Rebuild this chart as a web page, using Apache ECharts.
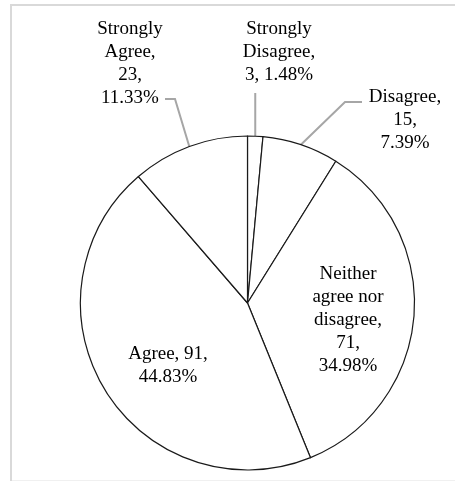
<!DOCTYPE html>
<html>
<head>
<meta charset="utf-8">
<style>
html,body{margin:0;padding:0;background:#fff;}
#chart{width:455px;height:481px;}
</style>
<script src="https://cdn.jsdelivr.net/npm/echarts@6/dist/echarts.min.js"></script>
</head>
<body>
<div id="chart"></div>
<script>
var categories = ['Strongly Disagree', 'Disagree', 'Neither agree nor disagree', 'Agree', 'Strongly Agree'];
var values = [3, 15, 71, 91, 23];

var total = values.reduce(function (a, b) { return a + b; }, 0);
function pct(v) { return (v / total * 100).toFixed(2) + '%'; }

// how each label breaks into lines (layout only)
var wrap = {
  'Strongly Disagree': function (v) { return 'Strongly\nDisagree,\n' + v + ', ' + pct(v); },
  'Disagree': function (v) { return 'Disagree,\n' + v + ',\n' + pct(v); },
  'Neither agree nor disagree': function (v) { return 'Neither\nagree nor\ndisagree,\n' + v + ',\n' + pct(v); },
  'Agree': function (v) { return 'Agree, ' + v + ',\n' + pct(v); },
  'Strongly Agree': function (v) { return 'Strongly\nAgree,\n' + v + ',\n' + pct(v); }
};
var insideSet = { 'Neither agree nor disagree': 1, 'Agree': 1 };

// label placement (layout): label centre and leader elbow / end
var placement = {
  'Strongly Disagree': { x: 279, y: 52, elbow: [null, 93], end: [null, 93] },
  'Disagree': { x: 405, y: 120, elbow: [345, 102], end: [362, 102] },
  'Neither agree nor disagree': { x: 348, y: 320 },
  'Agree': { x: 168, y: 366 },
  'Strongly Agree': { x: 130, y: 64, elbow: [175, 99], end: [165, 99] }
};

var chart = echarts.init(document.getElementById('chart'), null, { renderer: 'canvas' });

var data = categories.map(function (c, i) {
  var inside = !!insideSet[c];
  return {
    name: c,
    value: values[i],
    label: { position: inside ? 'inside' : 'outside' },
    labelLine: { show: !inside }
  };
});

chart.setOption({
  animation: false,
  backgroundColor: '#ffffff',
  graphic: [{
    type: 'polyline',
    shape: { points: [[11, 481], [11, 5], [455, 5]] },
    style: { stroke: '#d9d9d9', lineWidth: 2, fill: null },
    silent: true
  }, {
    type: 'line',
    shape: { x1: 12, y1: 480.5, x2: 455, y2: 480.5 },
    style: { stroke: '#f0f0f0', lineWidth: 1 },
    silent: true
  }],
  series: [{
    type: 'pie',
    center: [247.5, 303],
    radius: [0, 167],
    startAngle: 90,
    clockwise: true,
    avoidLabelOverlap: false,
    itemStyle: { color: '#ffffff', borderColor: '#1a1a1a', borderWidth: 1.2 },
    emphasis: { disabled: true },
    label: {
      show: true,
      fontFamily: 'Liberation Serif',
      fontSize: 19,
      lineHeight: 23,
      color: '#000000',
      align: 'center',
      formatter: function (p) { return wrap[p.name](p.value); }
    },
    labelLine: {
      show: true,
      lineStyle: { color: '#a6a6a6', width: 2 }
    },
    labelLayout: function (params) {
      var name = categories[params.dataIndex];
      var pl = placement[name];
      var out = { x: pl.x, y: pl.y, align: 'center', verticalAlign: 'middle' };
      if (!insideSet[name] && params.labelLinePoints) {
        var p0 = params.labelLinePoints[0];
        var e = [pl.elbow[0] == null ? p0[0] : pl.elbow[0], pl.elbow[1]];
        var f = [pl.end[0] == null ? p0[0] : pl.end[0], pl.end[1]];
        out.labelLinePoints = [p0, e, f];
      }
      return out;
    },
    data: data
  }]
});
</script>
</body>
</html>
